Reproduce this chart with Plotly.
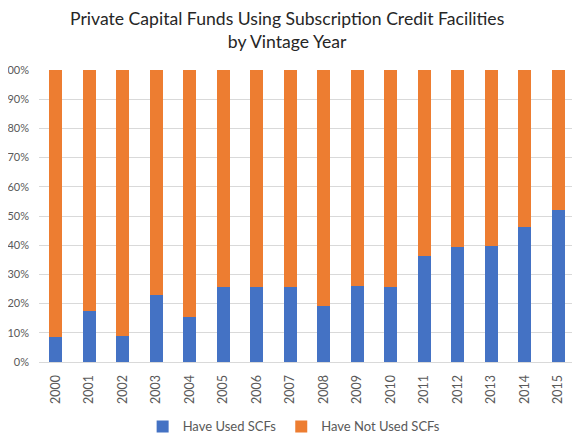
import plotly.graph_objects as go

years = [str(y) for y in range(2000, 2016)]
used = [8.6, 17.5, 9.0, 23.0, 15.4, 25.7, 25.7, 25.7, 19.2, 26.0, 25.7, 36.3, 39.3, 39.8, 46.2, 52.0]
not_used = [round(100 - v, 1) for v in used]
tick_vals = list(range(0, 101, 10))
tick_text = ["0%", "10%", "20%", "30%", "40%", "50%", "60%", "70%", "80%", "90%", "00%"]

fig = go.Figure()
fig.add_trace(go.Bar(x=years, y=used, name="Have Used SCFs", marker=dict(color="#4472C4", line=dict(width=0))))
fig.add_trace(go.Bar(x=years, y=not_used, name="Have Not Used SCFs", marker=dict(color="#ED7D31", line=dict(width=0))))

fig.update_layout(
    barmode="stack",
    bargap=0.6,
    width=572, height=427,
    margin=dict(l=31, r=5, t=62, b=73, autoexpand=False),
    paper_bgcolor="white", plot_bgcolor="white",
    font=dict(family="Lato, sans-serif", color="#595959", size=11),
    title=dict(text="Private Capital Funds Using Subscription Credit Facilities<br>by Vintage Year",
               x=0.488, xanchor="center", y=0.96, yanchor="top",
               font=dict(size=17.6, color="#262626", family="Lato, sans-serif")),
    legend=dict(orientation="h", x=0.476, xanchor="center",
                yref="container", y=0.02, yanchor="middle",
                traceorder="normal", itemwidth=30,
                font=dict(size=13, color="#595959")),
    showlegend=True,
)
fig.update_xaxes(tickangle=-90, showgrid=False, showline=True, linecolor="#d9d9d9",
                 ticks="", automargin=False, ticklabelstandoff=7,
                 tickfont=dict(size=12.5, color="#595959"))
fig.update_yaxes(range=[0, 100], tickvals=tick_vals, ticktext=tick_text, showgrid=True,
                 gridcolor="#d9d9d9", zeroline=False, ticks="", automargin=False,
                 ticklabelstandoff=9, tickfont=dict(size=11, color="#595959"))

fig.write_html("out.html")
